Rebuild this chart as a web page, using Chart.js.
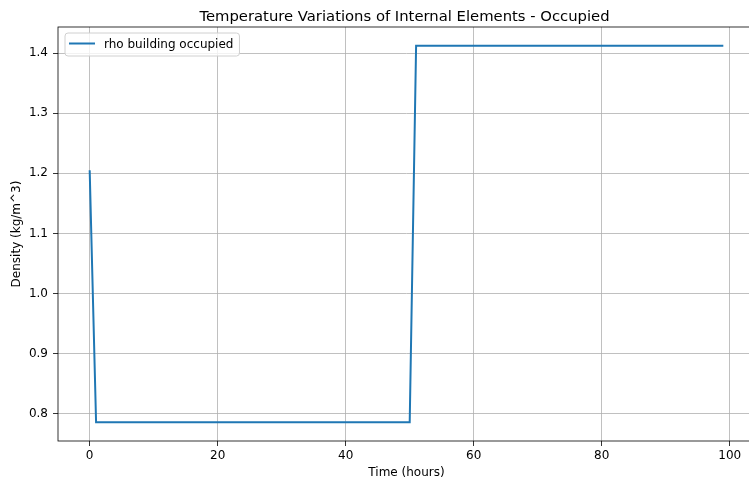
<!DOCTYPE html>
<html>
<head>
<meta charset="utf-8">
<script src="https://cdn.jsdelivr.net/npm/chart.js@4.4.1/dist/chart.umd.min.js"></script>
<style>
  body { margin: 0; overflow: hidden; background: #fff; }
</style>
</head>
<body>
<canvas id="rho" width="809" height="482"></canvas>
<script>
const hours = [0, 1, 2, 3, 4, 5, 6, 7, 8, 9, 10, 11, 12, 13, 14, 15, 16, 17, 18, 19,
  20, 21, 22, 23, 24, 25, 26, 27, 28, 29, 30, 31, 32, 33, 34, 35, 36, 37, 38, 39,
  40, 41, 42, 43, 44, 45, 46, 47, 48, 49, 50, 51, 52, 53, 54, 55, 56, 57, 58, 59,
  60, 61, 62, 63, 64, 65, 66, 67, 68, 69, 70, 71, 72, 73, 74, 75, 76, 77, 78, 79,
  80, 81, 82, 83, 84, 85, 86, 87, 88, 89, 90, 91, 92, 93, 94, 95, 96, 97, 98, 99]

const density = [1.205, 0.786, 0.786, 0.786, 0.786, 0.786, 0.786, 0.786, 0.786, 0.786,
  0.786, 0.786, 0.786, 0.786, 0.786, 0.786, 0.786, 0.786, 0.786, 0.786,
  0.786, 0.786, 0.786, 0.786, 0.786, 0.786, 0.786, 0.786, 0.786, 0.786,
  0.786, 0.786, 0.786, 0.786, 0.786, 0.786, 0.786, 0.786, 0.786, 0.786,
  0.786, 0.786, 0.786, 0.786, 0.786, 0.786, 0.786, 0.786, 0.786, 0.786,
  0.786, 1.412, 1.412, 1.412, 1.412, 1.412, 1.412, 1.412, 1.412, 1.412,
  1.412, 1.412, 1.412, 1.412, 1.412, 1.412, 1.412, 1.412, 1.412, 1.412,
  1.412, 1.412, 1.412, 1.412, 1.412, 1.412, 1.412, 1.412, 1.412, 1.412,
  1.412, 1.412, 1.412, 1.412, 1.412, 1.412, 1.412, 1.412, 1.412, 1.412,
  1.412, 1.412, 1.412, 1.412, 1.412, 1.412, 1.412, 1.412, 1.412, 1.412]

const xTicks = [0, 20, 40, 60, 80, 100]
const yTicks = [0.8, 0.9, 1.0, 1.1, 1.2, 1.3, 1.4]

const chartTitle = 'Temperature Variations of Internal Elements - Occupied'
const seriesLabel = 'rho building occupied'
const lineColor = '#1f77b4'

Chart.defaults.font.family = "'DejaVu Sans', sans-serif"
Chart.defaults.font.size = 12
Chart.defaults.color = '#000'

// frame round the plot, like matplotlib spines
const frame = {
  id: 'frame',
  afterDatasetsDraw(chart) {
    const { ctx, chartArea: a } = chart
    ctx.save()
    ctx.strokeStyle = '#000'
    ctx.lineWidth = 0.8
    ctx.strokeRect(a.left, a.top, a.right - a.left, a.bottom - a.top)
    ctx.restore()
  }
}

// title centred on the whole axes box (its right part is cut off by the window)
const topTitle = {
  id: 'topTitle',
  afterDraw(chart) {
    const { ctx } = chart
    ctx.save()
    ctx.font = "14.8px 'DejaVu Sans', sans-serif"
    ctx.fillStyle = '#000'
    ctx.textAlign = 'center'
    ctx.textBaseline = 'alphabetic'
    ctx.fillText(chartTitle, 404.5, 21)
    ctx.restore()
  }
}

// boxed legend in the upper left corner
const boxLegend = {
  id: 'boxLegend',
  afterDraw(chart) {
    const { ctx, chartArea: a } = chart
    ctx.save()
    ctx.font = "12px 'DejaVu Sans', sans-serif"
    const tw = ctx.measureText(seriesLabel).width
    const x = a.left + 7, y = a.top + 6
    const w = 5 + 24 + 10 + tw + 6, h = 23
    ctx.beginPath()
    ctx.roundRect(x, y, w, h, 3)
    ctx.fillStyle = 'rgba(255,255,255,0.8)'
    ctx.fill()
    ctx.strokeStyle = '#d0d0d0'
    ctx.lineWidth = 1
    ctx.stroke()
    ctx.beginPath()
    ctx.moveTo(x + 4, y + 10.5)
    ctx.lineTo(x + 30, y + 10.5)
    ctx.strokeStyle = lineColor
    ctx.lineWidth = 2
    ctx.stroke()
    ctx.fillStyle = '#000'
    ctx.textBaseline = 'middle'
    ctx.fillText(seriesLabel, x + 39, y + 11.5)
    ctx.restore()
  }
}

new Chart(document.getElementById('rho'), {
  type: 'line',
  data: {
    datasets: [{
      label: seriesLabel,
      data: hours.map((h, i) => ({ x: h, y: density[i] })),
      borderColor: lineColor,
      borderWidth: 2,
      pointRadius: 0,
      tension: 0,
      fill: false
    }]
  },
  options: {
    responsive: false,
    animation: false,
    layout: { padding: { left: 0, right: 54, top: 27, bottom: 0 } },
    plugins: {
      legend: { display: false },
      tooltip: { enabled: false },
      title: { display: false }
    },
    scales: {
      x: {
        type: 'linear',
        min: -4.95,
        max: 103.95,
        afterBuildTicks: s => { s.ticks = xTicks.map(v => ({ value: v })) },
        afterFit: s => { s.height = 41 },
        ticks: { padding: 3, callback: v => String(v) },
        grid: { color: '#b0b0b0', lineWidth: 0.8, tickLength: 5, tickColor: '#000', tickWidth: 0.8 },
        border: { display: false },
        title: { display: true, text: 'Time (hours)', padding: { top: 0, bottom: 2 } }
      },
      y: {
        min: 0.7547,
        max: 1.4433,
        afterBuildTicks: s => { s.ticks = yTicks.map(v => ({ value: v })) },
        afterFit: s => { s.width = 58 },
        ticks: { padding: 5, callback: v => v.toFixed(1) },
        grid: { color: '#b0b0b0', lineWidth: 0.8, tickLength: 5, tickColor: '#000', tickWidth: 0.8 },
        border: { display: false },
        title: { display: true, text: 'Density (kg/m^3)', padding: { top: 10, bottom: 0 } }
      }
    }
  },
  plugins: [frame, topTitle, boxLegend]
})
</script>
</body>
</html>
